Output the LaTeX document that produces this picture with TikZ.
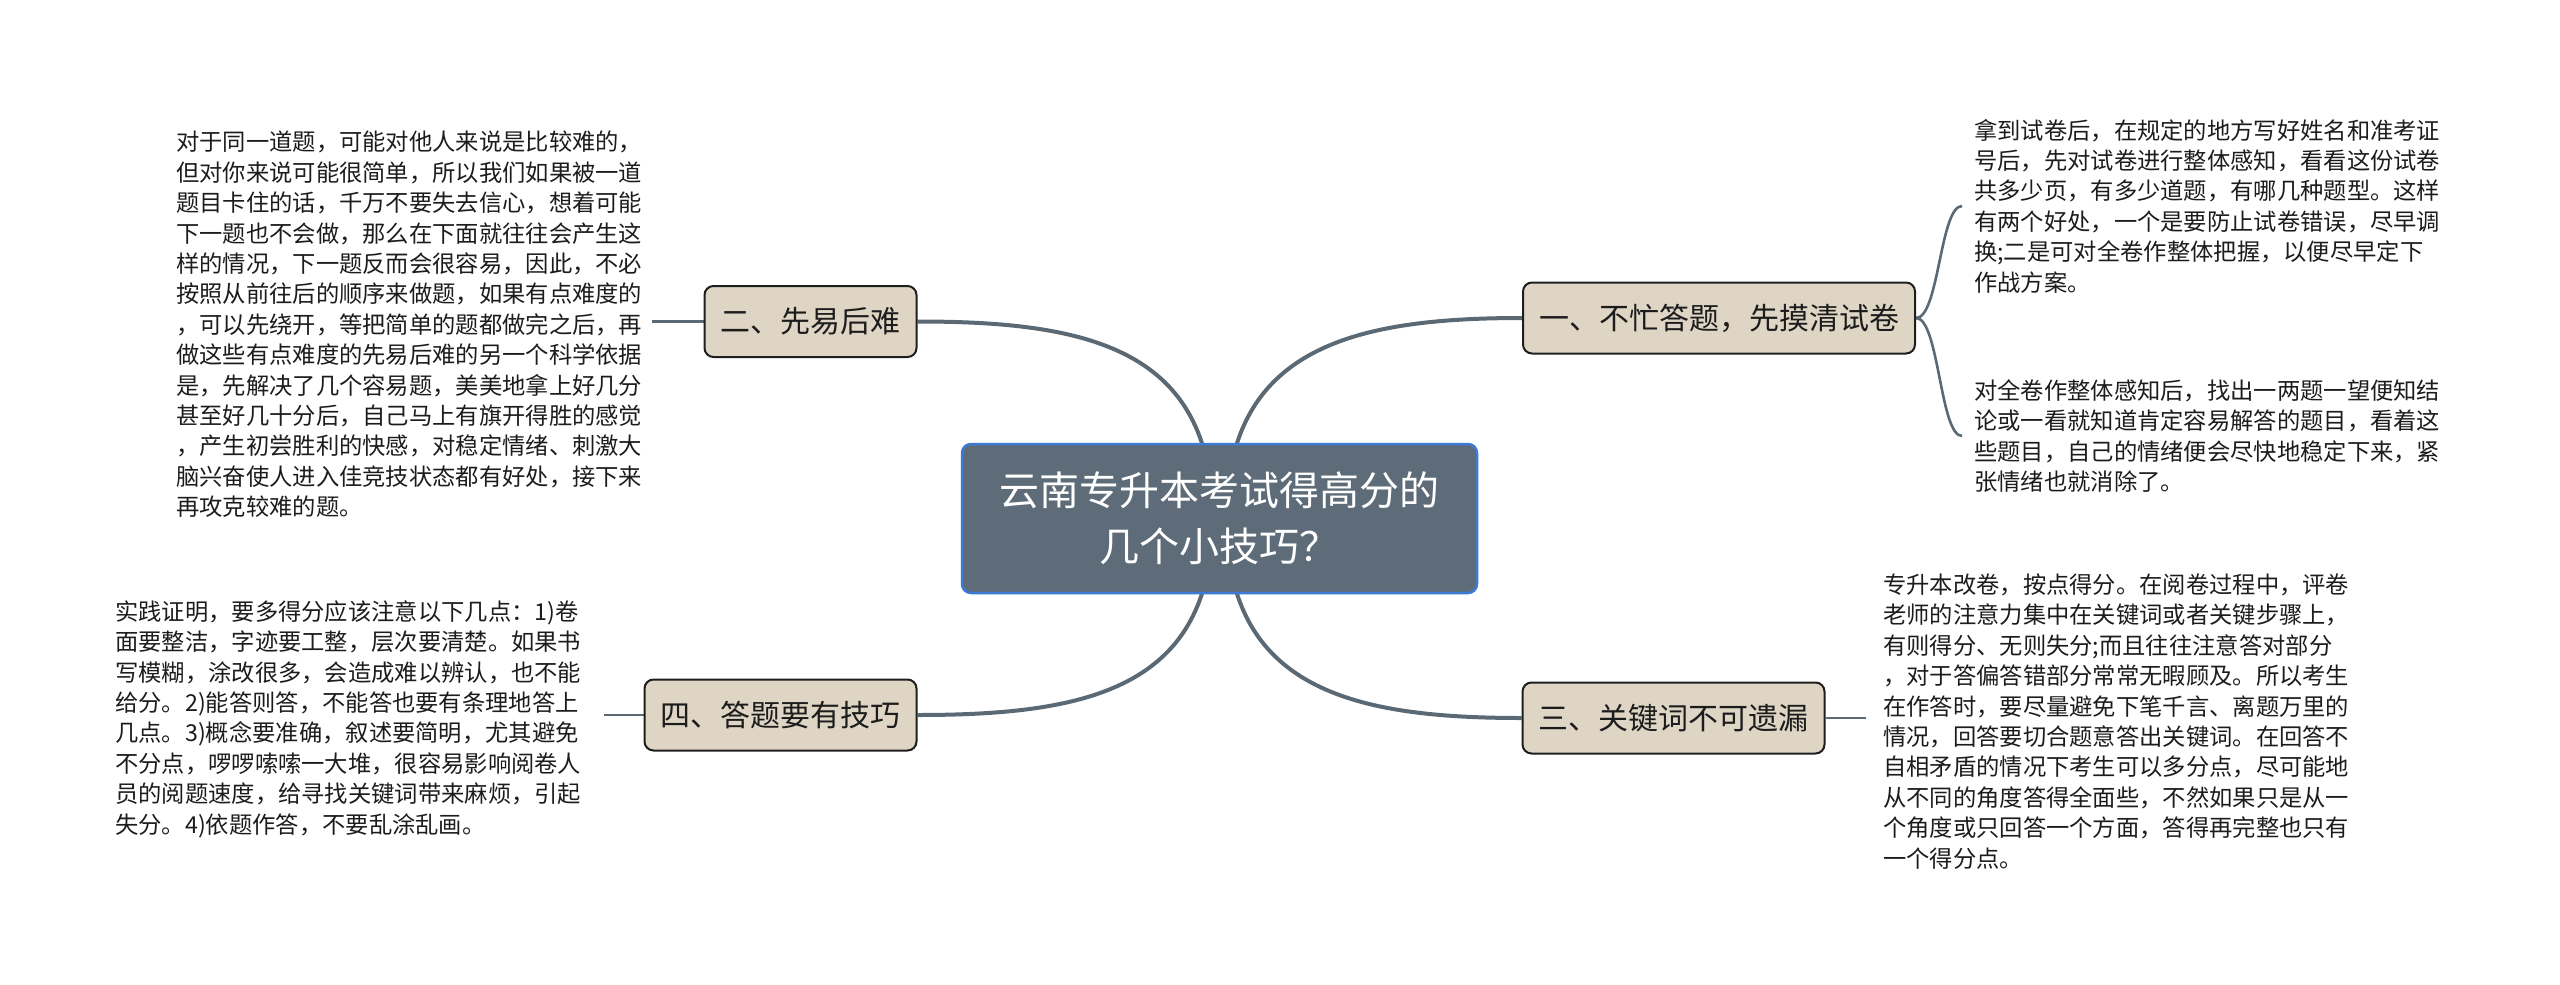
\documentclass[tikz,border=0pt]{standalone}
\usepackage{fontspec}
\setmainfont{Noto Sans CJK SC}
\usetikzlibrary{calc}
\definecolor{linec}{HTML}{5A6974}
\definecolor{rootfill}{HTML}{5D6C78}
\definecolor{rootborder}{HTML}{3B7BD6}
\definecolor{topicfill}{HTML}{DFD5C5}
\definecolor{topicborder}{HTML}{1E1E1E}
\definecolor{textc}{HTML}{1C1C1C}
\pgfdeclarelayer{bg}
\pgfsetlayers{bg,main}
\begin{document}
\begin{tikzpicture}[x=1pt,y=-1pt,
  conn/.style={draw=linec, line width=4pt},
  subconn/.style={draw=linec, line width=2.6pt},
  topic/.style={draw=topicborder, fill=topicfill, line width=2pt, rounded corners=9pt,
    minimum height=71pt, inner xsep=16pt, inner ysep=0pt,
    font=\fontsize{30}{36}\selectfont, text=textc},
  rootbox/.style={draw=rootborder, fill=rootfill, line width=2.5pt, rounded corners=9pt,
    minimum width=515pt, minimum height=149pt, align=center, text=white,
    font=\fontsize{40}{56}\selectfont},
  note/.style={anchor=west, align=left, inner sep=0pt,
    font=\fontsize{23.3}{30.4}\selectfont, text=textc}]
\useasboundingbox (0,0) rectangle (2560,985);

\node[rootbox] (root) at (1219.5,518.5) {云南专升本考试得高分的\\几个小技巧？};

\node[topic] (n1) at (1719,318) {一、不忙答题，先摸清试卷};
\node[topic] (n2) at (810.5,321.5) {二、先易后难};
\node[topic] (n3) at (1673.5,718) {三、关键词不可遗漏};
\node[topic] (n4) at (780.5,715) {四、答题要有技巧};

\node[note] (t2) at (176,324.5) {对于同一道题，可能对他人来说是比较难的，\\
但对你来说可能很简单，所以我们如果被一道\\
题目卡住的话，千万不要失去信心，想着可能\\
下一题也不会做，那么在下面就往往会产生这\\
样的情况，下一题反而会很容易，因此，不必\\
按照从前往后的顺序来做题，如果有点难度的\\
，可以先绕开，等把简单的题都做完之后，再\\
做这些有点难度的先易后难的另一个科学依据\\
是，先解决了几个容易题，美美地拿上好几分\\
甚至好几十分后，自己马上有旗开得胜的感觉\\
，产生初尝胜利的快感，对稳定情绪、刺激大\\
脑兴奋使人进入佳竞技状态都有好处，接下来\\
再攻克较难的题。};

\node[note] (t4) at (115,719) {实践证明，要多得分应该注意以下几点：1)卷\\
面要整洁，字迹要工整，层次要清楚。如果书\\
写模糊，涂改很多，会造成难以辨认，也不能\\
给分。2)能答则答，不能答也要有条理地答上\\
几点。3)概念要准确，叙述要简明，尤其避免\\
不分点，啰啰嗦嗦一大堆，很容易影响阅卷人\\
员的阅题速度，给寻找关键词带来麻烦，引起\\
失分。4)依题作答，不要乱涂乱画。};

\node[note] (t1a) at (1974,206) {拿到试卷后，在规定的地方写好姓名和准考证\\
号后，先对试卷进行整体感知，看看这份试卷\\
共多少页，有多少道题，有哪几种题型。这样\\
有两个好处，一个是要防止试卷错误，尽早调\\
换;二是可对全卷作整体把握，以便尽早定下\\
作战方案。};

\node[note] (t1b) at (1974,436) {对全卷作整体感知后，找出一两题一望便知结\\
论或一看就知道肯定容易解答的题目，看着这\\
些题目，自己的情绪便会尽快地稳定下来，紧\\
张情绪也就消除了。};

\node[note] (t3) at (1883,721.5) {专升本改卷，按点得分。在阅卷过程中，评卷\\
老师的注意力集中在关键词或者关键步骤上，\\
有则得分、无则失分;而且往往注意答对部分\\
，对于答偏答错部分常常无暇顾及。所以考生\\
在作答时，要尽量避免下笔千言、离题万里的\\
情况，回答要切合题意答出关键词。在回答不\\
自相矛盾的情况下考生可以多分点，尽可能地\\
从不同的角度答得全面些，不然如果只是从一\\
个角度或只回答一个方面，答得再完整也只有\\
一个得分点。};

\begin{pgfonlayer}{bg}
\draw[conn] (n2.east) .. controls +(170,0) and +(0,-170) .. ([xshift=-7pt]root.center);
\draw[conn] (n1.west) .. controls +(-170,0) and +(0,-170) .. ([xshift=7pt]root.center);
\draw[conn] (n4.east) .. controls +(170,0) and +(0,170) .. ([xshift=-7pt]root.center);
\draw[conn] (n3.west) .. controls +(-170,0) and +(0,170) .. ([xshift=7pt]root.center);

\draw[subconn] (n1.east) .. controls +(23,0) and +(-22,0) .. ([xshift=-12pt]t1a.west);
\draw[subconn] (n1.east) .. controls +(23,0) and +(-22,0) .. ([xshift=-12pt]t1b.west);
\draw[subconn] (n2.west) -- ([xshift=10pt]t2.east |- n2.west);
\draw[subconn] (n4.west) -- ([xshift=23pt]t4.east |- n4.west);
\draw[subconn] (n3.east) -- ([xshift=-17pt]t3.west |- n3.east);
\end{pgfonlayer}
\end{tikzpicture}
\end{document}
